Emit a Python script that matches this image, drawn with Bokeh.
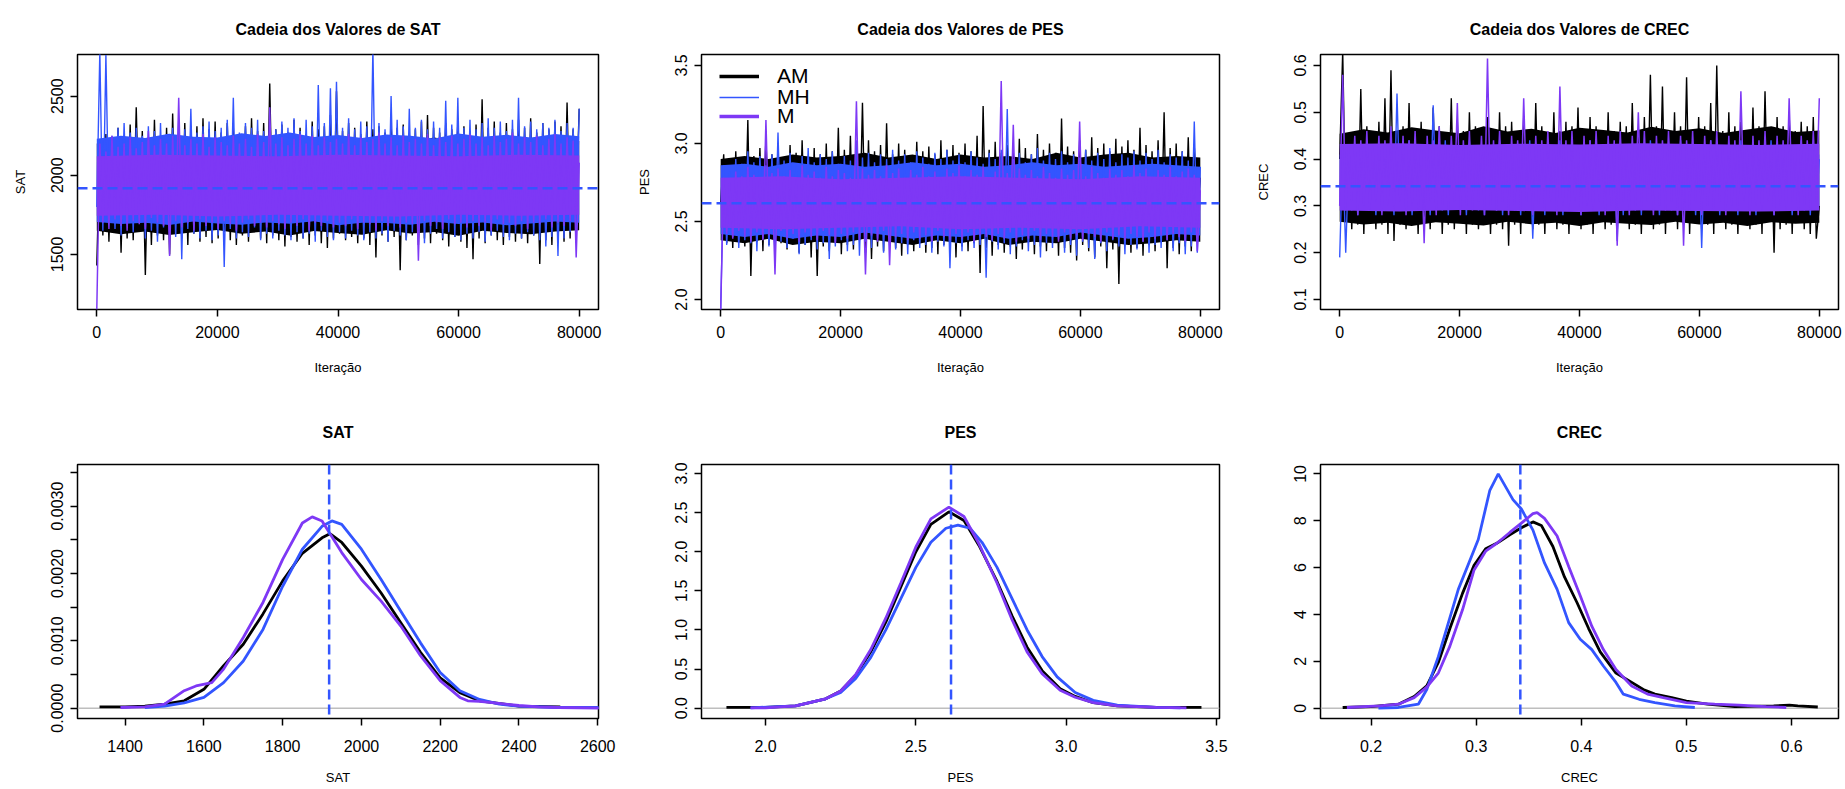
import numpy as np
from bokeh.plotting import figure
from bokeh.models import Range1d, FixedTicker, PrintfTickFormatter, Span, Legend, LegendItem
from bokeh.layouts import row, column
from bokeh.embed import file_html
from bokeh.resources import INLINE

FONT = "Liberation Sans"
C_AM = "#000000"
C_MH = "#3355FF"
C_M = "#7E38F5"

ITER_MAX = 80000
TRACE_XTICKS = [0, 20000, 40000, 60000, 80000]

# ---------------- trace chains: (low, high) excursions per ~1000 iterations ----------------
SAT_AM = [
    (1430, 2190), (1620, 2260), (1580, 2230), (1640, 2300), (1510, 2250), (1600, 2320), (1590, 2430), (1650, 2280), (1370, 2210), (1560, 2350),
    (1620, 2240), (1590, 2300), (1500, 2390), (1640, 2270), (1600, 2330), (1560, 2250), (1630, 2310), (1580, 2360), (1610, 2290), (1570, 2340),
    (1600, 2270), (1640, 2330), (1590, 2300), (1560, 2250), (1620, 2310), (1580, 2360), (1650, 2280), (1600, 2330), (1570, 2580), (1620, 2290),
    (1590, 2320), (1550, 2270), (1610, 2350), (1580, 2300), (1600, 2260), (1560, 2340), (1620, 2290), (1570, 2310), (1540, 2380), (1600, 2530),
    (1630, 2280), (1590, 2330), (1610, 2300), (1570, 2260), (1600, 2340), (1560, 2290), (1480, 2310), (1620, 2270), (1580, 2350), (1610, 2300),
    (1400, 2320), (1590, 2260), (1620, 2290), (1560, 2340), (1600, 2380), (1570, 2300), (1630, 2270), (1590, 2330), (1550, 2290), (1610, 2350),
    (1580, 2310), (1540, 2260), (1470, 2320), (1600, 2480), (1570, 2300), (1620, 2340), (1590, 2270), (1560, 2330), (1610, 2290), (1580, 2350),
    (1600, 2300), (1570, 2360), (1620, 2270), (1440, 2330), (1590, 2290), (1560, 2340), (1610, 2310), (1580, 2460), (1600, 2290), (1810, 2420),
]
SAT_MH = [
    (1800, 2780), (1650, 2760), (1700, 2250), (1660, 2300), (1620, 2330), (1690, 2270), (1640, 2300), (1700, 2250), (1600, 2310), (1650, 2280),
    (1580, 2330), (1670, 2260), (1640, 2300), (1610, 2350), (1470, 2290), (1660, 2420), (1630, 2270), (1600, 2310), (1650, 2340), (1590, 2280),
    (1620, 2300), (1420, 2350), (1660, 2490), (1600, 2270), (1640, 2330), (1610, 2300), (1670, 2350), (1590, 2280), (1630, 2320), (1600, 2290),
    (1650, 2340), (1620, 2300), (1590, 2360), (1640, 2280), (1600, 2350), (1630, 2310), (1580, 2570), (1650, 2330), (1610, 2550), (1590, 2590),
    (1640, 2300), (1600, 2360), (1650, 2290), (1620, 2340), (1590, 2310), (1640, 2800), (1600, 2330), (1630, 2290), (1580, 2500), (1650, 2350),
    (1620, 2310), (1590, 2420), (1640, 2300), (1600, 2350), (1570, 2290), (1630, 2340), (1660, 2300), (1600, 2470), (1640, 2320), (1610, 2490),
    (1590, 2300), (1630, 2350), (1600, 2290), (1640, 2330), (1580, 2360), (1620, 2300), (1650, 2340), (1610, 2280), (1590, 2350), (1630, 2490),
    (1600, 2310), (1640, 2340), (1620, 2290), (1590, 2330), (1550, 2300), (1610, 2350), (1490, 2280), (1600, 2330), (1640, 2300), (1620, 2420),
]
SAT_M = [
    (1150, 2200), (1700, 2150), (1660, 2250), (1720, 2180), (1680, 2200), (1650, 2240), (1710, 2170), (1690, 2210), (1660, 2280), (1730, 2190),
    (1700, 2230), (1680, 2200), (1490, 2250), (1710, 2490), (1670, 2190), (1700, 2230), (1650, 2200), (1720, 2260), (1680, 2180), (1700, 2240),
    (1660, 2210), (1710, 2190), (1690, 2250), (1650, 2200), (1700, 2230), (1720, 2180), (1680, 2260), (1700, 2210), (1670, 2430), (1710, 2200),
    (1690, 2240), (1660, 2190), (1700, 2230), (1680, 2260), (1720, 2200), (1650, 2250), (1700, 2190), (1680, 2240), (1710, 2210), (1670, 2230),
    (1700, 2200), (1680, 2260), (1720, 2190), (1660, 2240), (1700, 2210), (1690, 2230), (1650, 2270), (1710, 2200), (1680, 2240), (1700, 2190),
    (1670, 2250), (1700, 2210), (1690, 2230), (1460, 2200), (1710, 2260), (1680, 2190), (1700, 2240), (1660, 2210), (1720, 2250), (1690, 2200),
    (1700, 2230), (1670, 2260), (1710, 2200), (1680, 2240), (1700, 2190), (1650, 2250), (1720, 2210), (1690, 2230), (1700, 2270), (1680, 2200),
    (1710, 2240), (1660, 2210), (1700, 2250), (1690, 2190), (1720, 2230), (1670, 2260), (1700, 2200), (1680, 2240), (1710, 2220), (1480, 2080),
]
# dense part of each chain (every 4000 iterations for AM / MH, every 10000 for M)
SAT_AM_BAND_LO = [1650, 1628, 1645, 1622, 1640, 1655, 1630, 1645, 1620, 1648, 1635, 1625, 1652, 1632, 1642, 1618, 1650, 1636, 1628, 1644, 1652]
SAT_AM_BAND_HI = [2200, 2222, 2206, 2232, 2214, 2198, 2236, 2210, 2226, 2204, 2218, 2232, 2200, 2216, 2238, 2208, 2222, 2202, 2230, 2212, 2216]
SAT_MH_BAND_LO = [1705, 1692, 1700, 1686, 1708, 1696, 1688, 1702, 1694, 1710, 1684, 1700, 1698, 1688, 1706, 1692, 1702, 1684, 1696, 1708, 1700]
SAT_MH_BAND_HI = [2230, 2250, 2236, 2262, 2244, 2238, 2266, 2248, 2270, 2242, 2254, 2236, 2258, 2250, 2232, 2264, 2244, 2256, 2238, 2260, 2246]
SAT_M_CORE_LO = [1745, 1750, 1740, 1750, 1745, 1740, 1750, 1745, 1750]
SAT_M_CORE_HI = [2120, 2130, 2125, 2120, 2130, 2125, 2120, 2130, 2125]

PES_AM = [
    (2.62, 2.93), (2.36, 2.88), (2.33, 2.95), (2.38, 2.90), (2.34, 3.15), (2.15, 2.92), (2.37, 2.97), (2.31, 3.05), (2.35, 2.93), (2.28, 2.98),
    (2.36, 2.91), (2.32, 2.99), (2.38, 2.94), (2.30, 3.02), (2.35, 2.92), (2.27, 2.97), (2.15, 2.93), (2.34, 3.00), (2.31, 2.95), (2.37, 3.10),
    (2.29, 2.96), (2.35, 3.05), (2.32, 2.94), (2.38, 3.26), (2.30, 3.02), (2.26, 2.95), (2.34, 2.99), (2.31, 3.13), (2.36, 2.93), (2.33, 3.00),
    (2.28, 2.96), (2.35, 2.92), (2.31, 3.01), (2.37, 2.95), (2.30, 2.98), (2.33, 2.93), (2.29, 3.02), (2.35, 2.96), (2.32, 2.99), (2.27, 2.94),
    (2.34, 3.00), (2.31, 2.95), (2.36, 3.05), (2.17, 3.24), (2.33, 2.96), (2.28, 3.01), (2.35, 2.94), (2.30, 2.99), (2.34, 2.95), (2.26, 3.03),
    (2.32, 2.97), (2.37, 2.93), (2.29, 3.06), (2.34, 2.96), (2.31, 3.00), (2.36, 2.94), (2.28, 3.16), (2.33, 2.98), (2.30, 2.95), (2.25, 3.02),
    (2.35, 2.96), (2.31, 3.04), (2.27, 2.97), (2.34, 3.00), (2.20, 2.95), (2.32, 3.03), (2.10, 2.98), (2.36, 3.02), (2.30, 2.96), (2.33, 3.10),
    (2.28, 2.99), (2.35, 2.95), (2.31, 3.02), (2.37, 3.20), (2.20, 2.97), (2.33, 3.00), (2.29, 2.95), (2.34, 3.04), (2.31, 2.98), (2.57, 2.78),
]
PES_MH = [
    (1.93, 2.86), (2.35, 2.82), (2.40, 2.90), (2.33, 2.87), (2.38, 2.95), (2.36, 2.88), (2.31, 2.92), (2.39, 2.86), (2.34, 2.93), (2.30, 3.07),
    (2.37, 2.89), (2.33, 2.94), (2.39, 2.87), (2.29, 2.92), (2.35, 2.97), (2.38, 2.88), (2.32, 2.93), (2.36, 2.90), (2.26, 2.95), (2.34, 2.87),
    (2.38, 2.92), (2.31, 2.89), (2.35, 3.02), (2.28, 2.91), (2.37, 2.94), (2.33, 2.88), (2.39, 2.93), (2.30, 2.90), (2.35, 2.96), (2.32, 2.89),
    (2.36, 2.93), (2.29, 2.88), (2.38, 2.95), (2.33, 2.91), (2.35, 2.87), (2.30, 2.94), (2.37, 2.90), (2.34, 2.96), (2.20, 2.89), (2.36, 2.93),
    (2.31, 2.88), (2.38, 2.95), (2.33, 2.91), (2.35, 2.87), (2.14, 2.94), (2.37, 2.90), (2.32, 2.96), (2.36, 3.22), (2.29, 2.90), (2.34, 2.94),
    (2.38, 2.88), (2.31, 2.93), (2.35, 2.97), (2.27, 2.89), (2.36, 2.94), (2.33, 2.90), (2.39, 2.95), (2.30, 2.88), (2.35, 2.93), (2.28, 2.91),
    (2.37, 2.96), (2.33, 2.89), (2.26, 2.94), (2.36, 2.90), (2.31, 2.97), (2.38, 2.88), (2.34, 2.93), (2.29, 2.91), (2.35, 2.95), (2.32, 2.89),
    (2.37, 2.94), (2.30, 2.90), (2.35, 2.96), (2.33, 2.88), (2.38, 2.93), (2.31, 2.91), (2.36, 2.95), (2.29, 2.89), (2.34, 3.14), (2.30, 2.85),
]
PES_M = [
    (1.93, 2.78), (2.42, 2.75), (2.39, 2.82), (2.44, 2.79), (2.40, 2.85), (2.37, 2.80), (2.43, 2.78), (2.38, 3.15), (2.41, 2.81), (2.16, 2.84),
    (2.44, 2.79), (2.39, 2.83), (2.42, 2.77), (2.37, 2.86), (2.43, 2.80), (2.40, 2.82), (2.38, 2.78), (2.44, 2.85), (2.41, 2.79), (2.36, 2.83),
    (2.42, 2.81), (2.39, 2.78), (2.43, 3.27), (2.38, 2.84), (2.16, 2.80), (2.41, 2.83), (2.37, 2.79), (2.44, 2.86), (2.22, 2.81), (2.40, 2.84),
    (2.42, 2.78), (2.38, 2.83), (2.43, 2.80), (2.39, 2.85), (2.41, 2.79), (2.37, 2.82), (2.44, 2.78), (2.40, 2.84), (2.38, 2.81), (2.42, 2.86),
    (2.39, 2.79), (2.43, 2.83), (2.37, 2.80), (2.41, 2.85), (2.40, 2.78), (2.38, 2.82), (2.42, 3.40), (2.39, 2.81), (2.43, 3.12), (2.37, 2.84),
    (2.41, 2.80), (2.39, 2.83), (2.44, 2.79), (2.38, 2.85), (2.42, 2.81), (2.40, 2.78), (2.37, 2.84), (2.43, 2.80), (2.39, 2.83), (2.41, 3.14),
    (2.38, 2.79), (2.42, 2.85), (2.40, 2.81), (2.37, 2.78), (2.43, 2.84), (2.39, 2.80), (2.41, 2.83), (2.38, 2.79), (2.42, 2.86), (2.40, 2.81),
    (2.37, 2.84), (2.43, 2.78), (2.39, 2.83), (2.41, 2.80), (2.38, 2.85), (2.42, 2.79), (2.40, 2.82), (2.37, 2.84), (2.43, 2.80), (2.31, 2.70),
]
PES_AM_BAND_LO = [2.38, 2.36, 2.39, 2.35, 2.37, 2.36, 2.39, 2.37, 2.35, 2.38, 2.36, 2.39, 2.35, 2.37, 2.36, 2.39, 2.37, 2.35, 2.36, 2.38, 2.37]
PES_AM_BAND_HI = [2.90, 2.92, 2.90, 2.93, 2.91, 2.92, 2.94, 2.91, 2.93, 2.90, 2.93, 2.91, 2.92, 2.90, 2.94, 2.91, 2.93, 2.94, 2.91, 2.92, 2.91]
PES_MH_BAND_LO = [2.42, 2.40, 2.42, 2.39, 2.41, 2.40, 2.43, 2.41, 2.39, 2.41, 2.40, 2.42, 2.39, 2.41, 2.40, 2.43, 2.41, 2.39, 2.40, 2.42, 2.41]
PES_MH_BAND_HI = [2.86, 2.87, 2.85, 2.88, 2.86, 2.87, 2.85, 2.86, 2.88, 2.86, 2.87, 2.85, 2.86, 2.88, 2.86, 2.87, 2.85, 2.86, 2.87, 2.86, 2.85]
PES_M_CORE_LO = [2.46, 2.45, 2.46, 2.47, 2.45, 2.46, 2.45, 2.47, 2.46]
PES_M_CORE_HI = [2.78, 2.79, 2.77, 2.78, 2.79, 2.78, 2.77, 2.79, 2.78]

CREC_AM = [
    (0.40, 0.63), (0.27, 0.45), (0.25, 0.46), (0.26, 0.55), (0.24, 0.47), (0.27, 0.44), (0.25, 0.48), (0.26, 0.53), (0.24, 0.59), (0.225, 0.46),
    (0.26, 0.47), (0.25, 0.52), (0.27, 0.45), (0.24, 0.48), (0.26, 0.46), (0.25, 0.51), (0.27, 0.47), (0.24, 0.45), (0.26, 0.53), (0.25, 0.48),
    (0.27, 0.46), (0.24, 0.50), (0.26, 0.47), (0.25, 0.45), (0.27, 0.49), (0.24, 0.46), (0.26, 0.50), (0.25, 0.47), (0.215, 0.48), (0.26, 0.45),
    (0.24, 0.49), (0.27, 0.46), (0.25, 0.52), (0.26, 0.47), (0.24, 0.45), (0.27, 0.50), (0.25, 0.46), (0.26, 0.48), (0.24, 0.47), (0.27, 0.51),
    (0.25, 0.46), (0.26, 0.49), (0.24, 0.47), (0.27, 0.45), (0.25, 0.50), (0.26, 0.46), (0.24, 0.48), (0.27, 0.47), (0.25, 0.52), (0.26, 0.46),
    (0.24, 0.49), (0.27, 0.58), (0.25, 0.47), (0.26, 0.555), (0.24, 0.46), (0.27, 0.50), (0.25, 0.47), (0.26, 0.575), (0.24, 0.46), (0.27, 0.49),
    (0.25, 0.47), (0.26, 0.52), (0.24, 0.60), (0.27, 0.46), (0.25, 0.50), (0.26, 0.47), (0.24, 0.48), (0.27, 0.46), (0.25, 0.51), (0.26, 0.47),
    (0.24, 0.545), (0.27, 0.46), (0.20, 0.49), (0.25, 0.47), (0.26, 0.50), (0.24, 0.46), (0.27, 0.48), (0.25, 0.47), (0.24, 0.49), (0.23, 0.30),
]
CREC_MH = [
    (0.19, 0.42), (0.20, 0.40), (0.29, 0.43), (0.28, 0.41), (0.30, 0.44), (0.29, 0.42), (0.28, 0.40), (0.30, 0.43), (0.29, 0.41), (0.28, 0.54),
    (0.30, 0.42), (0.29, 0.44), (0.28, 0.41), (0.30, 0.43), (0.29, 0.40), (0.28, 0.515), (0.30, 0.42), (0.29, 0.44), (0.28, 0.41), (0.30, 0.43),
    (0.29, 0.42), (0.28, 0.44), (0.30, 0.41), (0.29, 0.43), (0.28, 0.42), (0.30, 0.40), (0.29, 0.44), (0.28, 0.42), (0.30, 0.41), (0.29, 0.43),
    (0.28, 0.42), (0.30, 0.44), (0.23, 0.41), (0.29, 0.43), (0.28, 0.42), (0.30, 0.40), (0.29, 0.44), (0.28, 0.42), (0.30, 0.41), (0.29, 0.43),
    (0.28, 0.42), (0.30, 0.44), (0.29, 0.41), (0.28, 0.43), (0.30, 0.42), (0.29, 0.40), (0.225, 0.44), (0.28, 0.42), (0.30, 0.41), (0.29, 0.43),
    (0.28, 0.42), (0.30, 0.44), (0.29, 0.41), (0.28, 0.43), (0.30, 0.42), (0.29, 0.40), (0.28, 0.44), (0.30, 0.42), (0.29, 0.41), (0.28, 0.43),
    (0.21, 0.42), (0.30, 0.44), (0.29, 0.41), (0.28, 0.43), (0.30, 0.42), (0.29, 0.40), (0.28, 0.44), (0.30, 0.42), (0.29, 0.41), (0.28, 0.43),
    (0.30, 0.42), (0.29, 0.44), (0.28, 0.41), (0.30, 0.43), (0.29, 0.42), (0.28, 0.40), (0.30, 0.44), (0.29, 0.42), (0.28, 0.41), (0.30, 0.40),
]
CREC_M = [
    (0.30, 0.58), (0.29, 0.43), (0.31, 0.45), (0.28, 0.44), (0.30, 0.46), (0.29, 0.43), (0.31, 0.45), (0.28, 0.44), (0.30, 0.47), (0.29, 0.43),
    (0.31, 0.45), (0.28, 0.44), (0.30, 0.46), (0.29, 0.43), (0.22, 0.45), (0.31, 0.44), (0.28, 0.47), (0.30, 0.43), (0.29, 0.45), (0.31, 0.52),
    (0.28, 0.44), (0.30, 0.46), (0.29, 0.43), (0.31, 0.45), (0.28, 0.615), (0.30, 0.44), (0.29, 0.46), (0.31, 0.43), (0.28, 0.45), (0.30, 0.44),
    (0.29, 0.53), (0.31, 0.43), (0.28, 0.45), (0.30, 0.44), (0.29, 0.46), (0.31, 0.43), (0.28, 0.555), (0.30, 0.44), (0.29, 0.46), (0.31, 0.43),
    (0.28, 0.45), (0.30, 0.44), (0.29, 0.46), (0.31, 0.43), (0.28, 0.45), (0.30, 0.44), (0.215, 0.46), (0.31, 0.43), (0.28, 0.45), (0.30, 0.50),
    (0.29, 0.46), (0.31, 0.43), (0.28, 0.45), (0.30, 0.44), (0.29, 0.46), (0.31, 0.43), (0.28, 0.45), (0.215, 0.44), (0.29, 0.46), (0.31, 0.43),
    (0.28, 0.45), (0.30, 0.44), (0.29, 0.46), (0.31, 0.43), (0.28, 0.45), (0.30, 0.44), (0.29, 0.545), (0.31, 0.43), (0.28, 0.45), (0.30, 0.44),
    (0.29, 0.46), (0.31, 0.43), (0.28, 0.45), (0.30, 0.44), (0.29, 0.53), (0.31, 0.43), (0.28, 0.45), (0.30, 0.44), (0.29, 0.46), (0.31, 0.53),
]
CREC_AM_BAND_LO = [0.266, 0.260, 0.264, 0.257, 0.265, 0.262, 0.258, 0.266, 0.261, 0.264, 0.257, 0.265, 0.262, 0.259, 0.266, 0.260, 0.264, 0.257, 0.265, 0.262, 0.264]
CREC_AM_BAND_HI = [0.454, 0.464, 0.457, 0.468, 0.461, 0.455, 0.470, 0.459, 0.465, 0.456, 0.467, 0.462, 0.457, 0.469, 0.460, 0.466, 0.456, 0.463, 0.470, 0.458, 0.461]
CREC_MH_BAND_LO = [0.300, 0.297, 0.302, 0.298, 0.301, 0.296, 0.300, 0.302, 0.297, 0.301, 0.298, 0.300, 0.302, 0.297, 0.301, 0.298, 0.300, 0.296, 0.301, 0.298, 0.300]
CREC_MH_BAND_HI = [0.410, 0.413, 0.408, 0.412, 0.409, 0.414, 0.410, 0.408, 0.413, 0.409, 0.412, 0.410, 0.408, 0.413, 0.409, 0.412, 0.410, 0.414, 0.409, 0.412, 0.410]
CREC_M_CORE_LO = [0.290, 0.288, 0.291, 0.289, 0.287, 0.290, 0.289, 0.288, 0.290]
CREC_M_CORE_HI = [0.432, 0.434, 0.430, 0.433, 0.431, 0.434, 0.432, 0.430, 0.433]

MEAN_SAT = 1918
MEAN_PES = 2.617
MEAN_CREC = 0.342

# ---------------- posterior densities ----------------
SAT_AM_X = [1335, 1400, 1450, 1500, 1550, 1600, 1650, 1700, 1750, 1800, 1850, 1900, 1920, 1950, 2000, 2050, 2100, 2150, 2200, 2250, 2300, 2400, 2505]
SAT_AM_Y = [0.00002, 0.00002, 0.00003, 0.00006, 0.00011, 0.00028, 0.00063, 0.00095, 0.0014, 0.00189, 0.0023, 0.00253, 0.00259, 0.00246, 0.00211, 0.00171, 0.00127, 0.00083, 0.00045, 0.00023, 0.00011, 0.00003, 0.00002]
SAT_MH_X = [1450, 1500, 1550, 1600, 1650, 1700, 1750, 1800, 1850, 1900, 1925, 1950, 2000, 2050, 2100, 2150, 2200, 2250, 2300, 2350, 2400, 2500, 2610]
SAT_MH_Y = [0.00001, 0.00003, 0.00008, 0.00016, 0.00038, 0.0007, 0.00117, 0.00181, 0.00236, 0.0027, 0.00278, 0.00273, 0.00236, 0.00191, 0.00144, 0.00097, 0.00053, 0.00026, 0.00013, 0.00006, 0.00003, 0.00001, 0.00001]
SAT_M_X = [1388, 1450, 1500, 1550, 1580, 1620, 1650, 1700, 1750, 1800, 1850, 1875, 1900, 1950, 2000, 2050, 2100, 2150, 2200, 2250, 2270, 2300, 2350, 2400, 2450, 2500, 2610]
SAT_M_Y = [0.00001, 0.00002, 0.00006, 0.00026, 0.00033, 0.00038, 0.00058, 0.00105, 0.00157, 0.00221, 0.00275, 0.00284, 0.00278, 0.00231, 0.00191, 0.00159, 0.00122, 0.00078, 0.00041, 0.00016, 0.00011, 0.0001, 0.00007, 0.00004, 0.00002, 0.00001, 0.0]

PES_AM_X = [1.87, 2.0, 2.1, 2.2, 2.25, 2.3, 2.35, 2.4, 2.45, 2.5, 2.55, 2.61, 2.66, 2.71, 2.77, 2.82, 2.87, 2.92, 2.98, 3.03, 3.09, 3.17, 3.3, 3.45]
PES_AM_Y = [0.01, 0.01, 0.03, 0.12, 0.22, 0.42, 0.72, 1.1, 1.55, 2.0, 2.35, 2.51, 2.4, 2.08, 1.62, 1.18, 0.78, 0.48, 0.25, 0.15, 0.07, 0.03, 0.01, 0.01]
PES_MH_X = [1.95, 2.1, 2.2, 2.25, 2.3, 2.35, 2.4, 2.45, 2.5, 2.55, 2.6, 2.64, 2.68, 2.72, 2.77, 2.82, 2.87, 2.92, 2.97, 3.03, 3.09, 3.17, 3.3, 3.38]
PES_MH_Y = [0.005, 0.03, 0.12, 0.2, 0.38, 0.65, 1.0, 1.4, 1.8, 2.12, 2.3, 2.34, 2.3, 2.12, 1.8, 1.4, 1.0, 0.66, 0.4, 0.2, 0.1, 0.04, 0.01, 0.005]
PES_M_X = [1.95, 2.0, 2.1, 2.2, 2.25, 2.3, 2.35, 2.4, 2.45, 2.5, 2.55, 2.61, 2.66, 2.71, 2.77, 2.82, 2.87, 2.92, 2.98, 3.03, 3.09, 3.17, 3.3, 3.4]
PES_M_Y = [0.005, 0.005, 0.03, 0.12, 0.22, 0.43, 0.75, 1.15, 1.6, 2.06, 2.42, 2.57, 2.45, 2.1, 1.6, 1.13, 0.72, 0.44, 0.23, 0.14, 0.07, 0.03, 0.01, 0.005]

CREC_AM_X = [0.173, 0.2, 0.226, 0.241, 0.253, 0.264, 0.275, 0.287, 0.298, 0.309, 0.32, 0.332, 0.343, 0.354, 0.362, 0.373, 0.384, 0.396, 0.407, 0.418, 0.433, 0.448, 0.459, 0.47, 0.486, 0.5, 0.52, 0.546, 0.583, 0.598, 0.606, 0.625]
CREC_AM_Y = [0.03, 0.07, 0.17, 0.5, 0.95, 1.95, 3.4, 4.9, 6.1, 6.8, 7.05, 7.4, 7.7, 7.95, 7.8, 6.9, 5.6, 4.5, 3.4, 2.4, 1.5, 1.1, 0.8, 0.6, 0.45, 0.3, 0.17, 0.07, 0.1, 0.13, 0.1, 0.05]
CREC_MH_X = [0.207, 0.226, 0.245, 0.253, 0.264, 0.283, 0.302, 0.313, 0.321, 0.335, 0.343, 0.354, 0.365, 0.377, 0.388, 0.399, 0.41, 0.421, 0.433, 0.44, 0.455, 0.47, 0.489, 0.508]
CREC_MH_Y = [0.0, 0.03, 0.17, 0.8, 2.2, 5.07, 7.2, 9.3, 10.0, 8.9, 8.5, 7.6, 6.2, 5.07, 3.65, 2.94, 2.5, 1.8, 1.1, 0.6, 0.38, 0.24, 0.1, 0.03]
CREC_M_X = [0.177, 0.208, 0.226, 0.241, 0.253, 0.264, 0.275, 0.287, 0.298, 0.309, 0.32, 0.332, 0.343, 0.354, 0.358, 0.365, 0.377, 0.388, 0.399, 0.41, 0.421, 0.433, 0.448, 0.463, 0.478, 0.5, 0.527, 0.55, 0.576, 0.595]
CREC_M_Y = [0.03, 0.1, 0.17, 0.45, 0.9, 1.5, 2.65, 4.2, 5.9, 6.7, 7.05, 7.5, 7.9, 8.3, 8.35, 8.1, 7.35, 6.05, 4.8, 3.5, 2.5, 1.65, 0.95, 0.6, 0.45, 0.24, 0.17, 0.13, 0.07, 0.03]

# ---------------- layout (page body has no margin) ----------------
COL_W = [630, 620, 595]
COL_BL = [77, 71, 70]
COL_FW = [521, 518, 518]
TOP_H, TOP_BT, TOP_FH = 395, 54, 255
BOT_H, BOT_BT, BOT_FH = 394, 69, 254


def base_fig(col, h, bt, fh, xr, yr, title, title_standoff):
    w = COL_W[col]
    bl = COL_BL[col]
    br = w - bl - COL_FW[col]
    bb = h - bt - fh
    p = figure(width=w, height=h, x_range=Range1d(*xr), y_range=Range1d(*yr),
               output_backend="svg", toolbar_location=None,
               min_border_left=bl, min_border_right=br,
               min_border_top=bt, min_border_bottom=bb, title=title)
    p.title.align = "center"
    p.title.text_font = FONT
    p.title.text_font_size = "16px"
    p.title.text_font_style = "bold"
    p.title.text_color = "black"
    p.title.standoff = title_standoff
    p.xgrid.visible = False
    p.ygrid.visible = False
    p.outline_line_color = "black"
    p.outline_line_width = 1.5
    p.outline_line_alpha = 1.0
    p.background_fill_color = "white"
    p.border_fill_color = "white"
    for ax in (p.xaxis[0], p.yaxis[0]):
        ax.axis_line_color = None
        ax.major_tick_in = 0
        ax.major_tick_out = 7
        ax.major_tick_line_width = 1.5
        ax.major_tick_line_color = "black"
        ax.minor_tick_line_color = None
        ax.major_label_text_font = FONT
        ax.major_label_text_font_size = "16px"
        ax.major_label_text_color = "black"
        ax.axis_label_text_font = FONT
        ax.axis_label_text_font_size = "13px"
        ax.axis_label_text_font_style = "normal"
        ax.axis_label_text_color = "black"
    p.yaxis[0].major_label_standoff = 7
    p.yaxis[0].major_label_orientation = "vertical"
    p.yaxis[0].axis_label_standoff = 21
    return p


def trace_panel(col, chains, yr, yticks, yfmt, title, ylabel, mean):
    p = base_fig(col, TOP_H, TOP_BT, TOP_FH, (-3200, 83200), yr, title, 34)
    p.xaxis[0].ticker = FixedTicker(ticks=TRACE_XTICKS)
    p.xaxis[0].formatter = PrintfTickFormatter(format="%d")
    p.xaxis[0].axis_label = "Iteração"
    p.xaxis[0].major_label_standoff = 9
    p.xaxis[0].axis_label_standoff = 19
    p.yaxis[0].ticker = FixedTicker(ticks=yticks)
    p.yaxis[0].formatter = PrintfTickFormatter(format=yfmt)
    p.yaxis[0].axis_label = ylabel
    # each chain: its dense band, then its path (R draws AM, then MH, then M on top)
    for pairs, band_lo, band_hi, color, lw in chains:
        it_band = np.linspace(0, ITER_MAX, len(band_lo))
        p.varea(x=it_band, y1=band_lo, y2=band_hi, fill_color=color, fill_alpha=1.0)
        vals = [v for pr in pairs for v in pr]
        it = np.linspace(0, ITER_MAX, len(vals))
        p.line(it, vals, line_color=color, line_width=lw)
    p.add_layout(Span(location=mean, dimension="width", line_color=C_MH,
                      line_width=2.5, line_dash="10 5"))
    return p


def density_panel(col, curves, xr, yr, xticks, xfmt, yticks, yfmt, title, xlabel, mean, yminor=None):
    p = base_fig(col, BOT_H, BOT_BT, BOT_FH, xr, yr, title, 48)
    p.xaxis[0].ticker = FixedTicker(ticks=xticks)
    p.xaxis[0].formatter = PrintfTickFormatter(format=xfmt)
    p.xaxis[0].axis_label = xlabel
    p.xaxis[0].major_label_standoff = 14
    p.xaxis[0].axis_label_standoff = 15
    if yminor:
        p.yaxis[0].ticker = FixedTicker(ticks=yticks, minor_ticks=yminor)
        p.yaxis[0].minor_tick_line_color = "black"
        p.yaxis[0].minor_tick_line_width = 1.5
        p.yaxis[0].minor_tick_in = 0
        p.yaxis[0].minor_tick_out = 7
    else:
        p.yaxis[0].ticker = FixedTicker(ticks=yticks)
    p.yaxis[0].formatter = PrintfTickFormatter(format=yfmt)
    p.add_layout(Span(location=0, dimension="width", line_color="#BEBEBE",
                      line_width=1.5, level="underlay"))
    for xs, ys, color in curves:
        p.line(xs, ys, line_color=color, line_width=2.8)
    p.add_layout(Span(location=mean, dimension="height", line_color=C_MH,
                      line_width=2.5, line_dash="10 5"))
    return p


p1 = trace_panel(0, [(SAT_AM, SAT_AM_BAND_LO, SAT_AM_BAND_HI, C_AM, 1.4),
                     (SAT_MH, SAT_MH_BAND_LO, SAT_MH_BAND_HI, C_MH, 1.4),
                     (SAT_M, SAT_M_CORE_LO, SAT_M_CORE_HI, C_M, 1.5)],
                 (1152, 2763), [1500, 2000, 2500], "%d",
                 "Cadeia dos Valores de SAT", "SAT", MEAN_SAT)
p2 = trace_panel(1, [(PES_AM, PES_AM_BAND_LO, PES_AM_BAND_HI, C_AM, 1.4),
                     (PES_MH, PES_MH_BAND_LO, PES_MH_BAND_HI, C_MH, 1.4),
                     (PES_M, PES_M_CORE_LO, PES_M_CORE_HI, C_M, 1.5)],
                 (1.936, 3.57), [2.0, 2.5, 3.0, 3.5], "%.1f",
                 "Cadeia dos Valores de PES", "PES", MEAN_PES)
p3 = trace_panel(2, [(CREC_AM, CREC_AM_BAND_LO, CREC_AM_BAND_HI, C_AM, 1.4),
                     (CREC_MH, CREC_MH_BAND_LO, CREC_MH_BAND_HI, C_MH, 1.4),
                     (CREC_M, CREC_M_CORE_LO, CREC_M_CORE_HI, C_M, 1.5)],
                 (0.0786, 0.6235), [0.1, 0.2, 0.3, 0.4, 0.5, 0.6], "%.1f",
                 "Cadeia dos Valores de CREC", "CREC", MEAN_CREC)

# legend in PES chain panel: one row per legend so each row sits where R put it
LEGEND_LABELS = ["AM", "MH", "M"]
LEGEND_COLORS = [C_AM, C_MH, C_M]
LEGEND_WIDTHS = [3.5, 1.5, 3.5]
ROW_CENTERS = [21.6, 43.0, 62.4]  # px below the top of the plot box
ROW_H = 24
for lab, colr, lw, rc in zip(LEGEND_LABELS, LEGEND_COLORS, LEGEND_WIDTHS, ROW_CENTERS):
    r = p2.line(x=np.array([np.nan]), y=np.array([np.nan]), line_color=colr, line_width=lw)
    lg = Legend(items=[LegendItem(label=lab, renderers=[r])],
                location=(18, TOP_FH - rc - ROW_H / 2), padding=0, margin=0, spacing=0,
                glyph_width=40, glyph_height=ROW_H, label_height=ROW_H, label_standoff=18,
                label_text_font=FONT, label_text_font_size="21px", label_text_color="black",
                label_text_baseline="middle",
                background_fill_alpha=0, border_line_color=None)
    p2.add_layout(lg)

p4 = density_panel(0, [(SAT_AM_X, SAT_AM_Y, C_AM), (SAT_MH_X, SAT_MH_Y, C_MH), (SAT_M_X, SAT_M_Y, C_M)],
                   (1279, 2602), (-0.000153, 0.003618),
                   [1400, 1600, 1800, 2000, 2200, 2400, 2600], "%d",
                   [0.0, 0.001, 0.002, 0.003], "%.4f", "SAT", "SAT", MEAN_SAT,
                   yminor=[0.0005, 0.0015, 0.0025, 0.0035])
p5 = density_panel(1, [(PES_AM_X, PES_AM_Y, C_AM), (PES_MH_X, PES_MH_Y, C_MH), (PES_M_X, PES_M_Y, C_M)],
                   (1.787, 3.51), (-0.132, 3.115),
                   [2.0, 2.5, 3.0, 3.5], "%.1f",
                   [0.0, 0.5, 1.0, 1.5, 2.0, 2.5, 3.0], "%.1f", "PES", "PES", MEAN_PES)
p6 = density_panel(2, [(CREC_AM_X, CREC_AM_Y, C_AM), (CREC_MH_X, CREC_MH_Y, C_MH), (CREC_M_X, CREC_M_Y, C_M)],
                   (0.1519, 0.6447), (-0.44, 10.4),
                   [0.2, 0.3, 0.4, 0.5, 0.6], "%.1f",
                   [0, 2, 4, 6, 8, 10], "%d", "CREC", "CREC", MEAN_CREC)

layout = column(row(p1, p2, p3), row(p4, p5, p6))
open("out.html", "w").write(file_html(layout, INLINE))
